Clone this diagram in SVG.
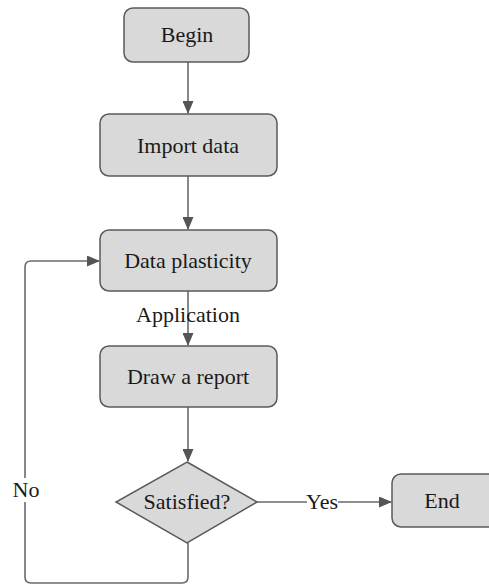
<svg xmlns="http://www.w3.org/2000/svg" width="489" height="586" viewBox="0 0 489 586">
<style>
.box{fill:#d9d9d9;stroke:#5a5a5a;stroke-width:1.5}
.t{font-family:"Liberation Serif","Times New Roman",serif;font-size:22px;fill:#1a1a1a;text-anchor:middle}
.c{fill:none;stroke:#6a6a6a;stroke-width:1.6}
</style>
<defs>
<marker id="ah" markerWidth="13" markerHeight="11" refX="12" refY="5.5" orient="auto" markerUnits="userSpaceOnUse">
<path d="M0,0 L13,5.5 L0,11 Z" fill="#555"/>
</marker>
</defs>
<rect width="489" height="586" fill="#ffffff"/>
<g id="connectors">
<line class="c" x1="188" y1="62" x2="188" y2="113" marker-end="url(#ah)"/>
<line class="c" x1="188" y1="176" x2="188" y2="229" marker-end="url(#ah)"/>
<line class="c" x1="188" y1="291" x2="188" y2="345" marker-end="url(#ah)"/>
<line class="c" x1="188" y1="407" x2="188" y2="461" marker-end="url(#ah)"/>
<path class="c" d="M188,543 V577 Q188,583 182,583 H31 Q25,583 25,577 V267 Q25,261 31,261 H99" marker-end="url(#ah)"/>
<line class="c" x1="257" y1="502" x2="307" y2="502"/>
<line class="c" x1="338" y1="502" x2="391" y2="502" marker-end="url(#ah)"/>
<rect x="12" y="478" width="28" height="24" fill="#ffffff"/>
<text class="t" x="188" y="322">Application</text>
<text class="t" x="322" y="509">Yes</text>
<text class="t" x="26" y="497">No</text>
</g>
<g id="begin">
<rect class="box" x="124" y="8" width="125" height="54" rx="9"/>
<text class="t" x="187" y="42">Begin</text>
</g>
<g id="import">
<rect class="box" x="100" y="114" width="177" height="62" rx="9"/>
<text class="t" x="188" y="153">Import data</text>
</g>
<g id="plasticity">
<rect class="box" x="100" y="230" width="177" height="61" rx="9"/>
<text class="t" x="188" y="268">Data plasticity</text>
</g>
<g id="report">
<rect class="box" x="100" y="346" width="177" height="61" rx="9"/>
<text class="t" x="188" y="384">Draw a report</text>
</g>
<g id="satisfied">
<polygon class="box" points="187,462 257,502 187,543 116,502"/>
<text class="t" x="187" y="509">Satisfied?</text>
</g>
<g id="end">
<rect class="box" x="392" y="474" width="110" height="53" rx="9"/>
<text class="t" x="442" y="508">End</text>
</g>
</svg>
